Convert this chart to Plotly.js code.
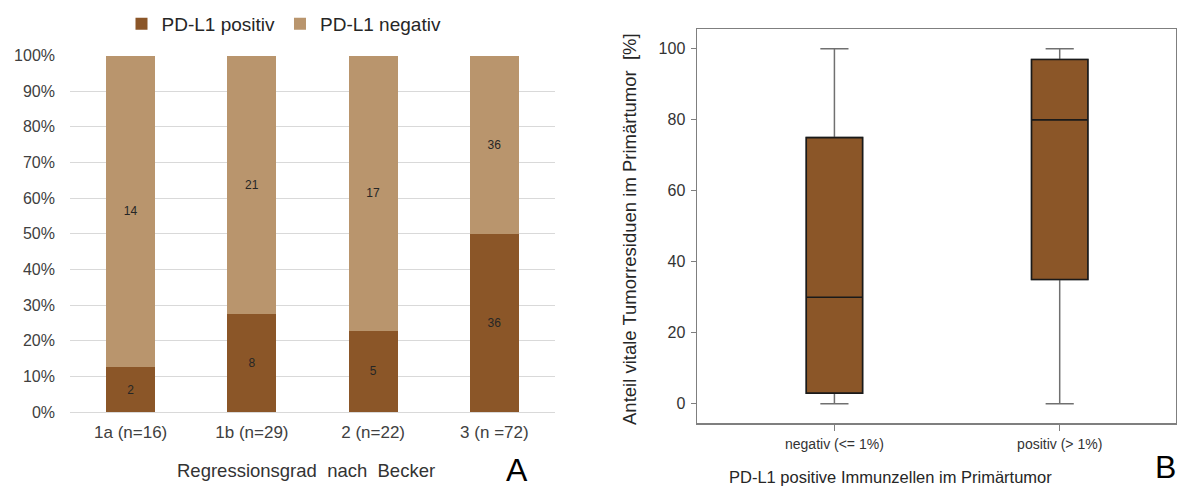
<!DOCTYPE html>
<html>
<head>
<meta charset="utf-8">
<script src="https://cdn.plot.ly/plotly-3.0.1.min.js"></script>
<style>
  html, body { margin: 0; padding: 0; background: #fff; }
  #chart { width: 1177px; height: 490px; }
</style>
</head>
<body>
<div id="chart"></div>
<script>
// Panel A: PD-L1 status per Becker regression grade (counts)
const grades = ['1a (n=16)', '1b (n=29)', '2 (n=22)', '3 (n =72)'];
const pdl1Positive = [2, 8, 5, 36];
const pdl1Negative = [14, 21, 17, 36];
const percentTicks = [0, 10, 20, 30, 40, 50, 60, 70, 80, 90, 100];
const percentLabels = percentTicks.map(v => v + '%');

// Panel B: vital tumour residue (%) by PD-L1 positive immune cells
const immuneGroups = ['negativ (&lt;= 1%)', 'positiv (&gt; 1%)'];
const groupPos = [0, 1];
const residueLowerFence = [0, 0];
const residueQ1 = [3, 35];
const residueMedian = [30, 80];
const residueQ3 = [75, 97];
const residueUpperFence = [100, 100];
const residueTicks = [0, 20, 40, 60, 80, 100];

const W = 1177, H = 490;
const px = x => x / W;
const py = y => 1 - y / H;

const BROWN = '#8B5628';
const TAN = '#B9956D';
const FONT = 'Liberation Sans, Arial, sans-serif';

const traces = [
  {
    type: 'bar', name: 'PD-L1 positiv', x: grades, y: pdl1Positive,
    text: pdl1Positive.map(String), textposition: 'inside', insidetextanchor: 'middle',
    textangle: 0, textfont: {size: 12, color: '#262626', family: FONT},
    marker: {color: BROWN}, xaxis: 'x', yaxis: 'y', hoverinfo: 'skip'
  },
  {
    type: 'bar', name: 'PD-L1 negativ', x: grades, y: pdl1Negative,
    text: pdl1Negative.map(String), textposition: 'inside', insidetextanchor: 'middle',
    textangle: 0, textfont: {size: 12, color: '#262626', family: FONT},
    marker: {color: TAN}, xaxis: 'x', yaxis: 'y', hoverinfo: 'skip'
  },
  // whiskers (grey)
  {
    type: 'box', x: groupPos, q1: residueQ1, median: residueMedian, q3: residueQ3,
    lowerfence: residueLowerFence, upperfence: residueUpperFence,
    width: 0.25, whiskerwidth: 0.5, boxpoints: false,
    fillcolor: BROWN, line: {color: '#707070', width: 1.5},
    xaxis: 'x2', yaxis: 'y2', showlegend: false, hoverinfo: 'skip'
  },
  // box body with dark outline and median
  {
    type: 'box', x: groupPos, q1: residueQ1, median: residueMedian, q3: residueQ3,
    lowerfence: residueQ1, upperfence: residueQ3,
    width: 0.25, whiskerwidth: 0, boxpoints: false,
    fillcolor: BROWN, line: {color: '#1a1a1a', width: 1.6},
    xaxis: 'x2', yaxis: 'y2', showlegend: false, hoverinfo: 'skip'
  }
];

const layout = {
  width: W, height: H,
  margin: {l: 0, r: 0, t: 0, b: 0},
  paper_bgcolor: '#fff', plot_bgcolor: '#fff',
  font: {family: FONT, color: '#404040'},
  barmode: 'stack', barnorm: 'percent', bargap: 0.596,
  boxmode: 'overlay',
  showlegend: true,
  legend: {
    orientation: 'h', x: px(284), xanchor: 'center', y: py(24), yanchor: 'middle',
    font: {size: 19, color: '#262626'}, traceorder: 'normal', bgcolor: 'rgba(0,0,0,0)'
  },
  xaxis: {
    domain: [px(70), px(555)], range: [-0.5, 3.5], type: 'category',
    showgrid: false, zeroline: false, showline: false, ticks: '',
    tickfont: {size: 17, color: '#404040'}, ticklabelstandoff: 8, fixedrange: true
  },
  yaxis: {
    domain: [py(412), py(55.5)], range: [0, 100],
    tickmode: 'array', tickvals: percentTicks, ticktext: percentLabels,
    showgrid: true, gridcolor: '#d9d9d9', gridwidth: 1,
    zeroline: true, zerolinecolor: '#d9d9d9', zerolinewidth: 1,
    showline: false, ticks: '', tickfont: {size: 16, color: '#404040'},
    ticklabelstandoff: 14, fixedrange: true
  },
  xaxis2: {
    domain: [px(697), px(1175.5)], range: [-0.61, 1.514], anchor: 'y2',
    tickmode: 'array', tickvals: groupPos, ticktext: immuneGroups,
    showgrid: false, zeroline: false, showline: true, mirror: true,
    linecolor: '#7f7f7f', linewidth: 1.5,
    ticks: 'outside', ticklen: 6, tickwidth: 1, tickcolor: '#7f7f7f',
    tickfont: {size: 14, color: '#333333'}, ticklabelstandoff: 1, fixedrange: true
  },
  yaxis2: {
    domain: [py(423.3), py(29)], range: [-5.5, 105.6], anchor: 'x2',
    tickmode: 'array', tickvals: residueTicks,
    showgrid: false, zeroline: false, showline: true, mirror: true,
    linecolor: '#7f7f7f', linewidth: 1.5,
    ticks: 'outside', ticklen: 5, tickwidth: 1, tickcolor: '#7f7f7f',
    tickfont: {size: 16, color: '#333333'}, ticklabelstandoff: 2, fixedrange: true
  },
  annotations: [
    {text: 'Regressionsgrad&nbsp; nach&nbsp; Becker', xref: 'paper', yref: 'paper',
     x: px(306), y: py(470), xanchor: 'center', yanchor: 'middle', showarrow: false,
     font: {size: 18.5, color: '#333333'}},
    {text: 'A', xref: 'paper', yref: 'paper', x: px(517), y: py(470),
     xanchor: 'center', yanchor: 'middle', showarrow: false,
     font: {size: 32, color: '#000000'}},
    {text: 'PD-L1 positive Immunzellen im Primärtumor', xref: 'paper', yref: 'paper',
     x: px(890), y: py(477), xanchor: 'center', yanchor: 'middle', showarrow: false,
     font: {size: 16.5, color: '#262626'}},
    {text: 'B', xref: 'paper', yref: 'paper', x: px(1165), y: py(467),
     xanchor: 'center', yanchor: 'middle', showarrow: false,
     font: {size: 32, color: '#000000'}},
    {text: 'Anteil vitale Tumorresiduen im Primärtumor&nbsp; [%]', xref: 'paper', yref: 'paper',
     x: px(629), y: py(229), xanchor: 'center', yanchor: 'middle', textangle: -90,
     showarrow: false, font: {size: 18.5, color: '#262626'}}
  ]
};

Plotly.newPlot('chart', traces, layout, {staticPlot: true, displayModeBar: false});
</script>
</body>
</html>
